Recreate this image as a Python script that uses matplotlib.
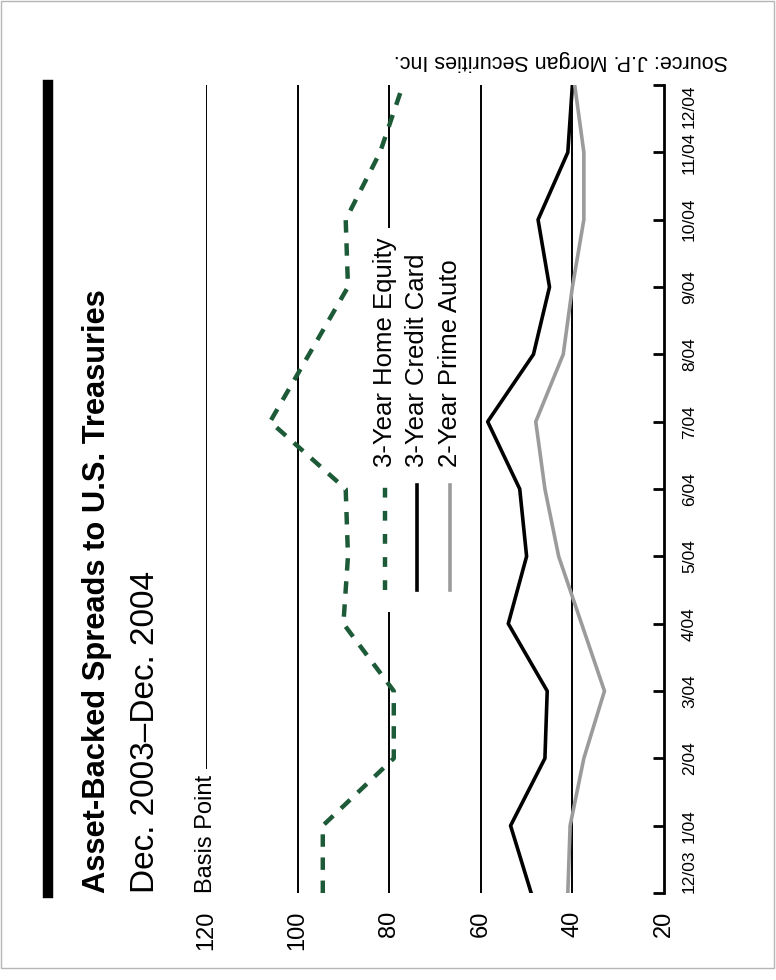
import matplotlib
matplotlib.use('Agg')
import matplotlib.pyplot as plt
from matplotlib.lines import Line2D
from matplotlib.patches import Rectangle

# 월별 스프레드 (basis point)
months = ['12/03', '1/04', '2/04', '3/04', '4/04', '5/04', '6/04',
          '7/04', '8/04', '9/04', '10/04', '11/04', '12/04']
home_equity = [94.5, 94.5, 79, 79, 90, 89, 89.5, 106, 97.5, 89, 89.5, 82, 77]
credit_card = [49, 53.5, 46, 45.5, 54, 50, 51.5, 58.5, 48.5, 45, 47.5, 41, 40]
prime_auto = [41, 40.5, 37.5, 33, 38, 43, 46, 48, 42, 40, 37.5, 37.5, 39.5]

series_names = ['3-Year Home Equity', '3-Year Credit Card', '2-Year Prime Auto']
value_ticks = [120, 100, 80, 60, 40, 20]

GREEN = '#1d5a37'
GRAY = '#9b9b9b'
FONT = 'Liberation Sans'

W, H = 776, 980


def px(x, y):
    # 픽셀 좌표 -> figure 좌표
    return x / W, 1 - y / H


fig = plt.figure(figsize=(W / 100, H / 100), dpi=100)
fig.set_facecolor('white')

# 세로로 눕힌 차트: x축 = 값(왼쪽 120 -> 오른쪽 20), y축 = 월
ax = fig.add_axes([206 / W, 87 / H, 458 / W, 808 / H])
ax.set_xlim(120, 20)
ax.set_ylim(0, 12)
ax.set_facecolor('none')

idx = list(range(len(months)))

for v in value_ticks[:-1]:
    ax.axvline(v, color='black', lw=1.4, zorder=1)

ax.plot(home_equity, idx, color=GREEN, lw=3.2, dashes=(2.8, 2.4), zorder=4,
        dash_capstyle='butt')
ax.plot(credit_card, idx, color='black', lw=2.6, zorder=4)
ax.plot(prime_auto, idx, color=GRAY, lw=2.6, zorder=4)

for s in ['top', 'left', 'bottom']:
    ax.spines[s].set_visible(False)
ax.spines['right'].set_linewidth(2)

ax.yaxis.set_ticks_position('right')
ax.set_yticks(idx)
ax.set_yticklabels(months, fontsize=12.5, family=FONT)
ax.tick_params(axis='y', direction='in', length=8, width=2, pad=13)
for i, lbl in enumerate(ax.get_yticklabels()):
    lbl.set_rotation(90)
    if i == 0:
        lbl.set_va('bottom')
    elif i == len(months) - 1:
        lbl.set_va('top')
    else:
        lbl.set_va('center')

ax.set_xticks(value_ticks)
ax.set_xticklabels([str(v) for v in value_ticks], fontsize=17, family=FONT, rotation=90)
ax.tick_params(axis='x', length=0, pad=13)

# 범례 배경 (80 눈금선을 가림)
fig.add_artist(Rectangle(px(362, 612), 100 / W, 384 / H, transform=fig.transFigure,
                         facecolor='white', edgecolor='none', zorder=2))

legend_x = [385, 417, 450]
legend_style = [dict(color=GREEN, lw=3.2, dashes=(2.2, 3.0)),
                dict(color='black', lw=2.6),
                dict(color=GRAY, lw=2.6)]
for x, name, st in zip(legend_x, series_names, legend_style):
    (x0, y0), (x1, y1) = px(x, 590), px(x, 485)
    fig.add_artist(Line2D([x0, x1], [y0, y1], transform=fig.transFigure, zorder=3, **st))
    fig.text(*px(x, 467), name, rotation=90, ha='center', va='bottom',
             fontsize=18.5, family=FONT, zorder=3)

# 제목 / 부제목
(bx, by0), (_, by1) = px(48, 893), px(48, 85)
fig.add_artist(Line2D([bx, bx], [by0, by1], transform=fig.transFigure, color='black', lw=7.5))
fig.text(*px(97, 893), 'Asset-Backed Spreads to U.S. Treasuries', rotation=90,
         ha='center', va='bottom', fontsize=22.2, fontweight='bold', family=FONT)
fig.text(*px(145, 893), 'Dec. 2003\u2013Dec. 2004', rotation=90,
         ha='center', va='bottom', fontsize=24, family=FONT)
fig.text(*px(206, 893), 'Basis Point', rotation=90, ha='center', va='bottom',
         fontsize=17, family=FONT, zorder=5,
         bbox=dict(facecolor='white', edgecolor='none', pad=4))

fig.text(*px(728, 60), 'Source: J.P. Morgan Securities Inc.', rotation=180,
         ha='right', va='center', fontsize=15.5, family=FONT)

fig.add_artist(Rectangle((1 / W, 12 / H), 773 / W, 967 / H, transform=fig.transFigure,
                         facecolor='none', edgecolor='#b5b5b5', lw=1))

fig.savefig('out.png', dpi=100, facecolor='white')
